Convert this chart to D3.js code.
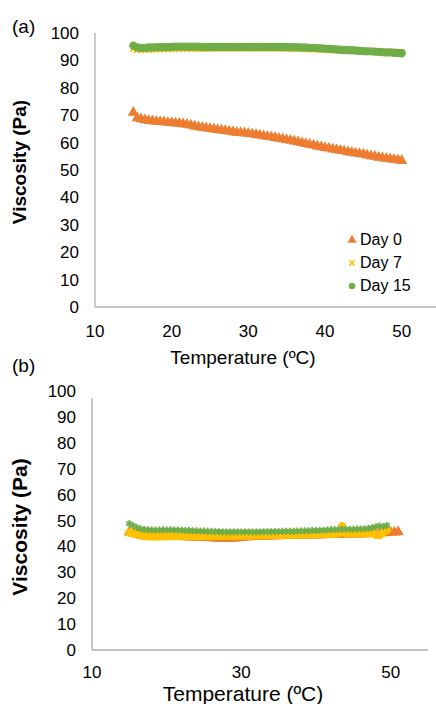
<!DOCTYPE html>
<html>
<head>
<meta charset="utf-8">
<script src="https://cdn.jsdelivr.net/npm/d3@7"></script>
<style>
  body { margin: 0; background: #fff; }
  text { font-family: "Liberation Sans", Arial, sans-serif; fill: #000; }
</style>
</head>
<body>
<svg id="chart" width="436" height="704"></svg>
<script>
// ---- panel (a) ----
const tempsA = [15, 15.5, 16, 16.5, 17, 17.5, 18, 18.5, 19, 19.5,
  20, 20.5, 21, 21.5, 22, 22.5, 23, 23.5, 24, 24.5,
  25, 25.5, 26, 26.5, 27, 27.5, 28, 28.5, 29, 29.5,
  30, 30.5, 31, 31.5, 32, 32.5, 33, 33.5, 34, 34.5,
  35, 35.5, 36, 36.5, 37, 37.5, 38, 38.5, 39, 39.5,
  40, 40.5, 41, 41.5, 42, 42.5, 43, 43.5, 44, 44.5,
  45, 45.5, 46, 46.5, 47, 47.5, 48, 48.5, 49, 49.5,
  50];
const day0A = [71.0, 69.0, 68.6, 68.3, 68.0, 67.9, 67.7, 67.6, 67.5, 67.3,
  67.2, 67.1, 67.0, 66.8, 66.6, 66.3, 66.0, 65.7, 65.5, 65.3,
  65.1, 64.9, 64.7, 64.5, 64.3, 64.1, 63.9, 63.7, 63.6, 63.4,
  63.3, 63.1, 62.9, 62.7, 62.4, 62.2, 62.0, 61.8, 61.5, 61.3,
  61.0, 60.8, 60.5, 60.2, 59.9, 59.6, 59.3, 59.0, 58.7, 58.4,
  58.1, 57.9, 57.6, 57.4, 57.1, 56.9, 56.6, 56.4, 56.1, 55.9,
  55.7, 55.4, 55.1, 54.9, 54.6, 54.4, 54.2, 54.0, 53.8, 53.6,
  53.4];
const day7A = [94.2, 93.9, 93.9, 94.0, 94.0, 94.0, 94.1, 94.1, 94.1, 94.2,
  94.2, 94.3, 94.3, 94.3, 94.3, 94.3, 94.3, 94.3, 94.3, 94.3,
  94.3, 94.3, 94.4, 94.4, 94.4, 94.4, 94.4, 94.4, 94.4, 94.4,
  94.4, 94.4, 94.4, 94.4, 94.4, 94.4, 94.4, 94.4, 94.4, 94.4,
  94.3, 94.3, 94.3, 94.2, 94.2, 94.2, 94.1, 94.1, 94.0, 94.0,
  93.9, 93.9, 93.8, 93.8, 93.7, 93.7, 93.6, 93.6, 93.5, 93.5,
  93.4, 93.4, 93.3, 93.3, 93.2, 93.2, 93.1, 93.1, 93.0, 93.0,
  92.9];
const day15A = [95.4, 94.7, 94.6, 94.6, 94.7, 94.7, 94.8, 94.8, 94.8, 94.9,
  94.9, 95.0, 95.0, 95.0, 95.0, 95.0, 95.0, 95.0, 94.9, 94.9,
  94.9, 94.9, 94.9, 94.9, 94.9, 94.9, 94.9, 94.9, 94.9, 94.9,
  94.9, 94.9, 94.9, 94.9, 94.9, 94.9, 94.9, 94.9, 94.9, 94.9,
  94.9, 94.8, 94.8, 94.8, 94.7, 94.7, 94.6, 94.6, 94.5, 94.4,
  94.3, 94.2, 94.1, 94.0, 93.9, 93.8, 93.7, 93.7, 93.6, 93.5,
  93.4, 93.3, 93.3, 93.2, 93.1, 93.0, 92.9, 92.9, 92.8, 92.7,
  92.6];

// ---- panel (b) ----
const tempsB = [15, 15.5, 16, 16.5, 17, 17.5, 18, 18.5, 19, 19.5,
  20, 20.5, 21, 21.5, 22, 22.5, 23, 23.5, 24, 24.5,
  25, 25.5, 26, 26.5, 27, 27.5, 28, 28.5, 29, 29.5,
  30, 30.5, 31, 31.5, 32, 32.5, 33, 33.5, 34, 34.5,
  35, 35.5, 36, 36.5, 37, 37.5, 38, 38.5, 39, 39.5,
  40, 40.5, 41, 41.5, 42, 42.5, 43, 43.5, 44, 44.5,
  45, 45.5, 46, 46.5, 47, 47.5, 48, 48.5, 49, 49.5,
  50, 50.5, 51];
const day0B = [45.5, 45.2, 44.8, 44.5, 44.3, 44.2, 44.0, 44.0, 43.9, 43.9,
  43.8, 43.8, 43.8, 43.7, 43.7, 43.6, 43.6, 43.5, 43.5, 43.4,
  43.4, 43.3, 43.2, 43.1, 43.0, 42.9, 42.9, 43.0, 43.1, 43.2,
  43.4, 43.5, 43.6, 43.7, 43.8, 43.8, 43.9, 43.9, 44.0, 44.0,
  44.0, 44.1, 44.1, 44.1, 44.2, 44.2, 44.2, 44.3, 44.3, 44.3,
  44.4, 44.4, 44.4, 44.5, 44.5, 44.5, 44.6, 44.6, 44.6, 44.7,
  44.7, 44.7, 44.8, 44.8, 44.9, 44.9, 45.0, 45.1, 45.2, 45.3,
  45.4, 45.5, 45.6];
const day7B = [45.3, 45.0, 44.6, 44.2, 44.0, 43.9, 43.8, 43.8, 43.8, 43.9,
  43.9, 43.9, 44.0, 44.0, 44.0, 44.0, 44.0, 44.0, 44.0, 44.0,
  44.0, 44.0, 44.0, 44.0, 44.1, 44.1, 44.1, 44.1, 44.1, 44.2,
  44.2, 44.2, 44.2, 44.3, 44.3, 44.3, 44.3, 44.3, 44.4, 44.4,
  44.4, 44.4, 44.5, 44.5, 44.5, 44.5, 44.6, 44.6, 44.6, 44.7,
  44.7, 44.7, 44.8, 44.8, 44.8, 44.9, 45.0, 47.8, 45.0, 45.0,
  45.0, 45.0, 45.0, 45.0, 45.0, 45.0, 44.5, 44.4, 45.3, 46.2];
const day15B = [48.8, 48.0, 47.3, 46.8, 46.5, 46.4, 46.3, 46.3, 46.3, 46.4,
  46.3, 46.4, 46.3, 46.3, 46.2, 46.1, 46.1, 46.0, 46.0, 45.9,
  45.9, 45.8, 45.8, 45.7, 45.7, 45.6, 45.6, 45.6, 45.6, 45.6,
  45.6, 45.6, 45.6, 45.6, 45.6, 45.6, 45.7, 45.7, 45.7, 45.7,
  45.7, 45.8, 45.8, 45.8, 45.8, 45.9, 45.9, 46.0, 46.0, 46.1,
  46.1, 46.2, 46.2, 46.3, 46.4, 46.5, 46.5, 46.6, 46.6, 46.6,
  46.6, 46.7, 46.7, 46.8, 46.9, 47.2, 47.6, 48.0, 47.6, 48.2];

const yTicks = [0, 10, 20, 30, 40, 50, 60, 70, 80, 90, 100];
const xTicksA = [10, 20, 30, 40, 50];
const xTicksB = [10, 30, 50];
const legendLabels = ["Day 0", "Day 7", "Day 15"];

const orange = "#ED7D31", yellow = "#FFC000", green = "#70AD47";

const svg = d3.select("#chart");

function drawPanel(p) {
    let x = d3.scaleLinear().domain([10, 55]).range([p.left, p.right]);
    let y = d3.scaleLinear().domain([0, 100]).range([p.bottom, p.top]);
    let g = svg.append("g");

    // axes lines
    g.append("line").attr("x1", x(10)).attr("x2", x(10))
        .attr("y1", p.axisTop).attr("y2", p.bottom)
        .attr("stroke", "#c4c4c4").attr("stroke-width", 1.8);
    g.append("line").attr("x1", x(10)).attr("x2", p.right)
        .attr("y1", p.bottom).attr("y2", p.bottom)
        .attr("stroke", "#c4c4c4").attr("stroke-width", 1.8);

    g.selectAll("text.ytick").data(yTicks).enter().append("text")
        .attr("class", "ytick")
        .attr("x", x(10) - 16).attr("y", d => y(d) + 6)
        .attr("text-anchor", "end").style("font-size", p.tickFont + "px")
        .text(d => d);

    g.selectAll("text.xtick").data(p.xTicks).enter().append("text")
        .attr("class", "xtick")
        .attr("x", d => x(d)).attr("y", p.bottom + p.xTickDy)
        .attr("text-anchor", "middle").style("font-size", p.tickFont + "px")
        .text(d => d);

    g.append("text")
        .attr("x", p.xTitleX).attr("y", p.xTitleY)
        .attr("text-anchor", "middle").style("font-size", p.titleFont + "px")
        .text("Temperature (ºC)");

    g.append("text")
        .attr("transform", "translate(" + p.yTitleX + "," + p.yTitleY + ") rotate(-90)")
        .attr("text-anchor", "middle").style("font-size", p.titleFont + "px")
        .style("font-weight", "bold")
        .text("Viscosity (Pa)");

    g.append("text").attr("x", 12).attr("y", p.labelY)
        .style("font-size", "19px").text(p.label);

    p.series.forEach(s => {
        let pts = s.values.map((v, i) => [p.temps[i], v]);
        let sym = d3.symbol().type(s.shape).size(s.size);
        g.append("g").selectAll("path").data(pts).enter().append("path")
            .attr("transform", d => "translate(" + x(d[0]) + "," + y(d[1]) + ")")
            .attr("d", sym)
            .attr("fill", s.stroked ? "none" : s.color)
            .attr("stroke", s.color)
            .attr("stroke-width", s.stroked ? 1.8 : 1.2);
    });

    return {x, y, g};
}

let a = drawPanel({
    left: 95, right: 440, top: 33, bottom: 307, axisTop: 33,
    xTicks: xTicksA, temps: tempsA, tickFont: 17, titleFont: 19,
    xTickDy: 30, xTitleX: 243, xTitleY: 364, yTitleX: 26, yTitleY: 162,
    label: "(a)", labelY: 33,
    series: [
        {values: day0A, color: orange, shape: d3.symbolTriangle, size: 36},
        {values: day7A, color: yellow, shape: d3.symbolTimes, size: 26, stroked: true},
        {values: day15A, color: green, shape: d3.symbolCircle, size: 40}
    ]
});

// legend for panel (a)
let legendShapes = [d3.symbolTriangle, d3.symbolTimes, d3.symbolCircle];
let legendColors = [orange, yellow, green];
let legend = a.g.append("g");
legend.selectAll("path").data(legendLabels).enter().append("path")
    .attr("transform", (d, i) => "translate(352," + (240 + i * 23) + ")")
    .attr("d", (d, i) => d3.symbol().type(legendShapes[i]).size(i == 1 ? 22 : 30)())
    .attr("fill", (d, i) => i == 1 ? "none" : legendColors[i])
    .attr("stroke", (d, i) => legendColors[i])
    .attr("stroke-width", (d, i) => i == 1 ? 1.6 : 0.5);
legend.selectAll("text").data(legendLabels).enter().append("text")
    .attr("x", 360).attr("y", (d, i) => 245 + i * 23)
    .style("font-size", "16px")
    .text(d => d);

drawPanel({
    left: 92, right: 428, top: 391, bottom: 650, axisTop: 398,
    xTicks: xTicksB, temps: tempsB, tickFont: 17, titleFont: 21,
    xTickDy: 28, xTitleX: 243, xTitleY: 701, yTitleX: 27, yTitleY: 527,
    label: "(b)", labelY: 372,
    series: [
        {values: day0B, color: orange, shape: d3.symbolTriangle, size: 36},
        {values: day7B, color: yellow, shape: d3.symbolCircle, size: 40},
        {values: day15B, color: green, shape: d3.symbolAsterisk, size: 34, stroked: true}
    ]
});
</script>
</body>
</html>
